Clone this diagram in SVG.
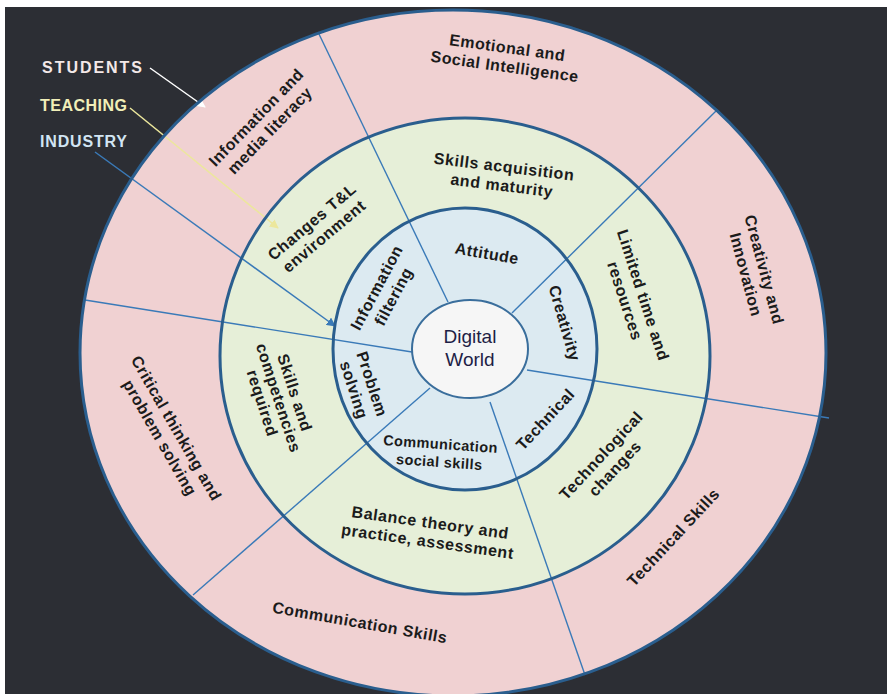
<svg xmlns="http://www.w3.org/2000/svg" width="887" height="694" viewBox="0 0 887 694">
  <defs>
    <style>
      .lbl { font-family: "Liberation Sans", Arial, sans-serif; font-weight: bold; fill: #1b1b1b; text-anchor: middle; }
      .o { font-size: 16px; letter-spacing: 0.5px; }
      .g { font-size: 16px; letter-spacing: 0.6px; }
      .b { font-size: 16px; letter-spacing: 0.5px; }
      .s { font-size: 14.5px; letter-spacing: 0.4px; }
      .key { font-family: "Liberation Sans", Arial, sans-serif; font-weight: bold; font-size: 16px; }
      .ring { stroke: #2a5e8e; stroke-width: 3; fill: none; }
      .div { stroke: #3a7ab8; stroke-width: 1.4; fill: none; }
    </style>
    <marker id="ahW" viewBox="0 0 10 10" refX="9" refY="5" markerWidth="9" markerHeight="9" markerUnits="userSpaceOnUse" orient="auto">
      <path d="M0,0 L10,5 L0,10 z" fill="#ffffff"/>
    </marker>
    <marker id="ahY" viewBox="0 0 10 10" refX="9" refY="5" markerWidth="9" markerHeight="9" markerUnits="userSpaceOnUse" orient="auto">
      <path d="M0,0 L10,5 L0,10 z" fill="#ece79c"/>
    </marker>
    <marker id="ahB" viewBox="0 0 10 10" refX="9" refY="5" markerWidth="9" markerHeight="9" markerUnits="userSpaceOnUse" orient="auto">
      <path d="M0,0 L10,5 L0,10 z" fill="#3a7ab8"/>
    </marker>
  </defs>

  <!-- page and dark backdrop -->
  <rect x="0" y="0" width="887" height="694" fill="#ffffff"/>
  <rect x="5" y="7" width="882" height="687" fill="#2c2e34"/>

  <!-- ring fills -->
  <g id="ring-fills">
    <ellipse cx="453" cy="353" rx="373" ry="343" fill="#f0d1d2"/>
    <ellipse cx="465" cy="356" rx="245" ry="238" fill="#e6efd8"/>
    <ellipse cx="465" cy="349" rx="132" ry="141" fill="#dceaf1"/>
  </g>

  <!-- sector dividers and key arrows -->
  <g id="connectors">
    <line class="div" x1="448" y1="302" x2="318" y2="32"/>
    <line class="div" x1="512" y1="313" x2="717" y2="110" stroke-width="3.2"/>
    <line class="div" x1="527" y1="370" x2="829" y2="418"/>
    <line class="div" x1="490" y1="402" x2="585" y2="675"/>
    <line class="div" x1="430" y1="388" x2="193" y2="595"/>
    <line class="div" x1="412" y1="352" x2="85" y2="300"/>
    <line x1="150" y1="68" x2="205" y2="107" stroke="#ffffff" stroke-width="1.5" marker-end="url(#ahW)"/>
    <line x1="130" y1="108" x2="278" y2="228" stroke="#ece79c" stroke-width="1.5" marker-end="url(#ahY)"/>
    <line x1="95" y1="152" x2="335" y2="326" stroke="#3a7ab8" stroke-width="1.5" marker-end="url(#ahB)"/>
  </g>

  <!-- ring outlines -->
  <g id="ring-borders">
    <ellipse class="ring" cx="453" cy="353" rx="373" ry="343" stroke-width="4"/>
    <ellipse class="ring" cx="465" cy="356" rx="245" ry="238"/>
    <ellipse class="ring" cx="465" cy="349" rx="132" ry="141"/>
  </g>

  <!-- centre -->
  <g id="digital-world">
    <ellipse cx="470" cy="349" rx="58" ry="49" fill="#f6f6f6" stroke="#3a6e9c" stroke-width="2"/>
    <text x="470" y="343" font-family="Liberation Sans, Arial, sans-serif" font-size="19" fill="#1e1e46" text-anchor="middle">Digital</text>
    <text x="470" y="366" font-family="Liberation Sans, Arial, sans-serif" font-size="19" fill="#1e1e46" text-anchor="middle">World</text>
  </g>

  <!-- key -->
  <g id="key-students"><text class="key" x="42" y="73" fill="#f3e8e8" textLength="100">STUDENTS</text></g>
  <g id="key-teaching"><text class="key" x="40" y="111" fill="#f1efb8" textLength="87">TEACHING</text></g>
  <g id="key-industry"><text class="key" x="40" y="147" fill="#d2e5f3" textLength="87">INDUSTRY</text></g>

  <!-- outer ring labels -->
  <g id="emotional" transform="translate(506,57) rotate(8)">
    <text class="lbl o" y="-4">Emotional and</text>
    <text class="lbl o" y="15">Social Intelligence</text>
  </g>
  <g id="info-media" transform="translate(263,124) rotate(-46)">
    <text class="lbl o" y="-4">Information and</text>
    <text class="lbl o" y="15">media literacy</text>
  </g>
  <g id="creativity-innovation" transform="translate(755,272) rotate(75)">
    <text class="lbl o" y="-4">Creativity and</text>
    <text class="lbl o" y="15">Innovation</text>
  </g>
  <g id="critical-thinking" transform="translate(168,433) rotate(60)">
    <text class="lbl o" y="-4">Critical thinking and</text>
    <text class="lbl o" y="15">problem solving</text>
  </g>
  <g id="communication-skills" transform="translate(360,622) rotate(10)">
    <text class="lbl o" y="6">Communication Skills</text>
  </g>
  <g id="technical-skills" transform="translate(673,537) rotate(-47)">
    <text class="lbl o" y="6">Technical Skills</text>
  </g>

  <!-- middle ring labels -->
  <g id="skills-acquisition" transform="translate(503,176) rotate(7)">
    <text class="lbl g" y="-4">Skills acquisition</text>
    <text class="lbl g" y="15">and maturity</text>
  </g>
  <g id="changes-tl" transform="translate(318,229) rotate(-40)">
    <text class="lbl g" y="-4">Changes T&amp;L</text>
    <text class="lbl g" y="15">environment</text>
  </g>
  <g id="limited-time" transform="translate(634,298) rotate(72)">
    <text class="lbl g" y="-4">Limited time and</text>
    <text class="lbl g" y="15">resources</text>
  </g>
  <g id="skills-competencies" transform="translate(278,398) rotate(72)">
    <text class="lbl g" y="-12">Skills and</text>
    <text class="lbl g" y="5">competencies</text>
    <text class="lbl g" y="22">required</text>
  </g>
  <g id="balance-theory" transform="translate(429,532) rotate(8)">
    <text class="lbl g" y="-4">Balance theory and</text>
    <text class="lbl g" y="15">practice, assessment</text>
  </g>
  <g id="technological-changes" transform="translate(608,462) rotate(-47)">
    <text class="lbl g" y="-4">Technological</text>
    <text class="lbl g" y="15">changes</text>
  </g>

  <!-- inner ring labels -->
  <g id="attitude" transform="translate(487,253) rotate(10)">
    <text class="lbl b" y="6">Attitude</text>
  </g>
  <g id="creativity" transform="translate(565,323) rotate(74)">
    <text class="lbl b" y="6">Creativity</text>
  </g>
  <g id="technical" transform="translate(545,419) rotate(-47)">
    <text class="lbl b" y="6">Technical</text>
  </g>
  <g id="communication-social" transform="translate(440,452) rotate(4)">
    <text class="lbl s" y="-3">Communication</text>
    <text class="lbl s" y="15">social skills</text>
  </g>
  <g id="problem-solving" transform="translate(363,387) rotate(72)">
    <text class="lbl b" y="-4">Problem</text>
    <text class="lbl b" y="15">solving</text>
  </g>
  <g id="information-filtering" transform="translate(385,292) rotate(-62)">
    <text class="lbl b" y="-4">Information</text>
    <text class="lbl b" y="15">filtering</text>
  </g>
</svg>
